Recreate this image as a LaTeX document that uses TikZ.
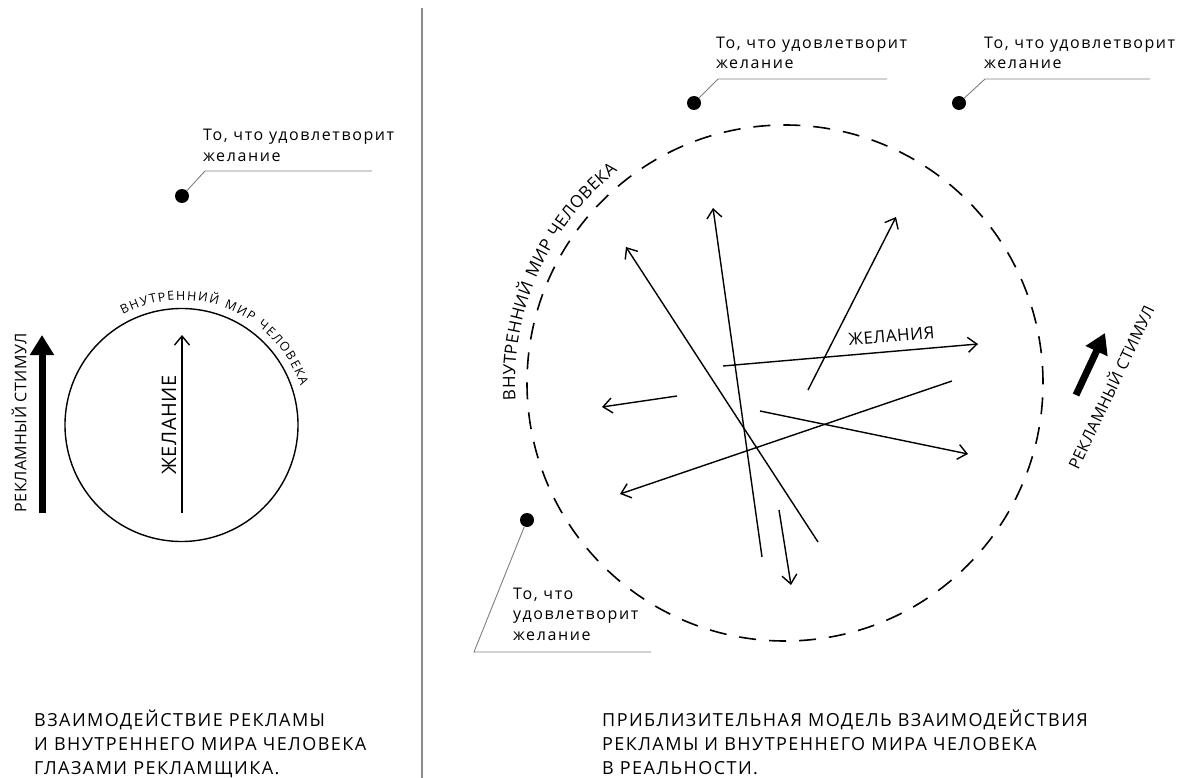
\documentclass[tikz,border=0pt]{standalone}
\usepackage{fontspec}
\setmainfont{Open Sans}
\newfontfamily\lblfont[LetterSpace=10]{Open Sans}
\newfontfamily\capfont[LetterSpace=8]{Open Sans}
\newfontfamily\plainfont[LetterSpace=3]{Open Sans}
\usetikzlibrary{arrows.meta,decorations.text}
\newcommand{\smallarcfont}{\plainfont\fontsize{12.5}{14}\selectfont}
\newcommand{\bigarcfont}{\plainfont\fontsize{17}{20}\selectfont}
\begin{document}
\begin{tikzpicture}[x=1pt,y=-1pt,
  lead/.style={draw=black!50, line width=0.9pt},
  dotnode/.style={circle, fill=black, inner sep=0pt, minimum size=14pt},
  arr/.style={line width=1.4pt, -{Straight Barb[length=9pt,width=15pt,line width=1.4pt]}},
  fat/.style={line width=7pt, -{Triangle[length=20pt,width=23pt]}},
  lbl/.style={anchor=base west, inner sep=0pt, text=black, font=\lblfont\fontsize{16}{18}\selectfont},
  captxt/.style={anchor=base west, inner sep=0pt, text=black, font=\capfont\fontsize{18}{20}\selectfont},
  side/.style={inner sep=0pt, text=black, font=\plainfont\fontsize{16}{18}\selectfont},
]
\useasboundingbox (0,0) rectangle (1184,778);
\fill[white] (0,0) rectangle (1184,778);

% separator
\draw[black!45, line width=1.2pt] (422,8) -- (422,778);

% ---------- left part ----------
\node[dotnode] (d1) at (182,196) {};
\coordinate (k1) at (205,171);
\coordinate (e1) at (372,171);
\draw[lead] (d1) -- (k1) -- (e1);
\node[lbl] (t1a) at (203,141) {То, что удовлетворит};
\node[lbl] (t1b) at (203,162) {желание};

\node[circle, draw, line width=1.4pt, minimum size=233pt, inner sep=0pt] (c1) at (181.5,425) {};
\coordinate (w1) at (182,513);
\coordinate (w2) at (182,335);
\draw[arr] (w1) -- (w2);
\node[inner sep=0pt, rotate=90, text=black, font=\plainfont\fontsize{20}{22}\selectfont] (zh1) at (169,425) {ЖЕЛАНИЕ};

\coordinate (fa1) at (42,513);
\coordinate (fb1) at (42,335);
\draw[fat] (fa1) -- (fb1);
\node[side, rotate=90] (rs1) at (19,423) {РЕКЛАМНЫЙ СТИМУЛ};

\path[decorate, decoration={text along path, text align={fit to path},
  text={|\smallarcfont|ВНУТРЕННИЙ МИР ЧЕЛОВЕКА}}]
  (181.5,425) ++(-118:125) arc[start angle=-118, end angle=-18, radius=125];

\node[captxt] (cl1) at (34,726) {ВЗАИМОДЕЙСТВИЕ РЕКЛАМЫ};
\node[captxt] (cl2) at (34,750) {И ВНУТРЕННЕГО МИРА ЧЕЛОВЕКА};
\node[captxt] (cl3) at (34,774) {ГЛАЗАМИ РЕКЛАМЩИКА.};

% ---------- right part ----------
\node[circle, draw, line width=1.6pt, dash pattern=on 17pt off 13pt, minimum size=516pt, inner sep=0pt] (c2) at (785,383) {};

\path[decorate, decoration={text along path, text align={fit to path},
  text={|\bigarcfont|ВНУТРЕННИЙ МИР ЧЕЛОВЕКА}}]
  (785,383) ++(-183.7:270) arc[start angle=-183.7, end angle=-128.3, radius=270];

\node[dotnode] (d2) at (694,103) {};
\coordinate (k2) at (718,79);
\coordinate (e2) at (887,79);
\draw[lead] (d2) -- (k2) -- (e2);
\node[lbl] (t2a) at (716,49) {То, что удовлетворит};
\node[lbl] (t2b) at (716,69) {желание};

\node[dotnode] (d3) at (959,103) {};
\coordinate (k3) at (985,79);
\coordinate (e3) at (1150,79);
\draw[lead] (d3) -- (k3) -- (e3);
\node[lbl] (t3a) at (984,49) {То, что удовлетворит};
\node[lbl] (t3b) at (984,69) {желание};

\node[dotnode] (d4) at (527,520) {};
\coordinate (k4) at (474,652);
\coordinate (e4) at (651,652);
\draw[lead] (d4) -- (k4) -- (e4);
\node[lbl] (t4a) at (513,599) {То, что};
\node[lbl] (t4b) at (513,619) {удовлетворит};
\node[lbl] (t4c) at (513,640) {желание};

% desire arrows
\coordinate (a1s) at (762,557); \coordinate (a1e) at (713,208);
\coordinate (a2s) at (818,542); \coordinate (a2e) at (626,247);
\coordinate (a3s) at (808,390); \coordinate (a3e) at (896,217);
\coordinate (a4s) at (723,366); \coordinate (a4e) at (978,344);
\coordinate (a5s) at (677,396); \coordinate (a5e) at (602,407);
\coordinate (a6s) at (952,381); \coordinate (a6e) at (620,494);
\coordinate (a7s) at (760,411); \coordinate (a7e) at (968,454);
\coordinate (a8s) at (779,510); \coordinate (a8e) at (791,585);
\draw[arr] (a1s) -- (a1e);
\draw[arr] (a2s) -- (a2e);
\draw[arr] (a3s) -- (a3e);
\draw[arr] (a4s) -- (a4e);
\draw[arr] (a5s) -- (a5e);
\draw[arr] (a6s) -- (a6e);
\draw[arr] (a7s) -- (a7e);
\draw[arr] (a8s) -- (a8e);
\node[anchor=base, inner sep=0pt, rotate=5, text=black, font=\plainfont\fontsize{17}{20}\selectfont] (zh2) at (892,342) {ЖЕЛАНИЯ};

\coordinate (fa2) at (1076,395);
\coordinate (fb2) at (1105,333);
\draw[fat] (fa2) -- (fb2);
\node[side, rotate=64.6] (rs2) at (1110,387) {РЕКЛАМНЫЙ СТИМУЛ};

\node[captxt] (cr1) at (602,726) {ПРИБЛИЗИТЕЛЬНАЯ МОДЕЛЬ ВЗАИМОДЕЙСТВИЯ};
\node[captxt] (cr2) at (602,750) {РЕКЛАМЫ И ВНУТРЕННЕГО МИРА ЧЕЛОВЕКА};
\node[captxt] (cr3) at (602,774) {В РЕАЛЬНОСТИ.};
\end{tikzpicture}
\end{document}
